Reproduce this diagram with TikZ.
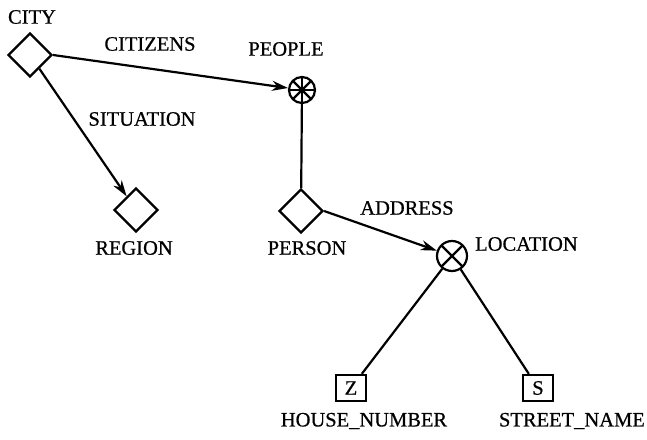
\documentclass[tikz,border=0pt]{standalone}
\usepackage{fontspec}
\setmainfont{Liberation Serif}[FakeBold=0.6]
\usepackage{tikz}
\usetikzlibrary{arrows.meta,shapes.geometric,positioning}
\tikzstyle{entity} = [diamond, draw, line width=2.2pt, minimum width=44pt, minimum height=44pt, inner sep=0pt]
\tikzstyle{setof} = [circle, draw, line width=2.2pt, minimum size=26pt, inner sep=0pt, path picture={\foreach \a in {0,45,...,135} \draw[line width=2.2pt] (path picture bounding box.center) ++(\a:14pt) -- ++(\a+180:28pt);}]
\tikzstyle{listof} = [circle, draw, line width=2.2pt, minimum size=30pt, inner sep=0pt, path picture={\foreach \a in {45,135} \draw[line width=2.2pt] (path picture bounding box.center) ++(\a:16pt) -- ++(\a+180:32pt);}]
\tikzstyle{prim} = [rectangle, draw, line width=2.2pt, minimum width=30pt, minimum height=26pt, inner sep=0pt]
\tikzstyle{caption} = [inner sep=0pt]
\tikzstyle{link} = [line width=2.2pt]

\begin{document}
\begin{tikzpicture}[x=1pt, y=-1pt, >={Stealth[length=16pt, width=10pt, inset=5pt]}, font=\fontsize{20.5}{24}\selectfont]
	\useasboundingbox (0,0) rectangle (647,439);
	% symbols
	\node[entity] (city) at (30,55) {};
	\node[setof] (people) at (302,90) {};
	\node[entity] (region) at (136,210) {};
	\node[entity] (person) at (301,211) {};
	\node[listof] (location) at (452,256) {};
	\node[prim] (z) at (351,388) {Z};
	\node[prim] (s) at (538,388) {S};
	% captions
	\node[caption] (cityname) at (32,17) {CITY};
	\node[caption] (citizens) at (150,44) {CITIZENS};
	\node[caption] (peoplename) at (286,49) {PEOPLE};
	\node[caption] (situation) at (142,119) {SITUATION};
	\node[caption] (regionname) at (134,248) {REGION};
	\node[caption] (personname) at (307,248) {PERSON};
	\node[caption] (address) at (407,208) {ADDRESS};
	\node[caption, anchor=west] (locationname) at (475,244) {LOCATION};
	\node[caption] (housename) at (364,421) {HOUSE\_NUMBER};
	\node[caption, anchor=east] (streetname) at (645,421) {STREET\_NAME};
	% links
	\draw[link, ->] (city.east) -- (people);
	\draw[link, ->] (city) -- (region);
	\draw[link] (people) -- (person);
	\draw[link, ->] (person.east) -- (location);
	\draw[link] (location) -- (z);
	\draw[link] (location) -- (s);
\end{tikzpicture}
\end{document}
